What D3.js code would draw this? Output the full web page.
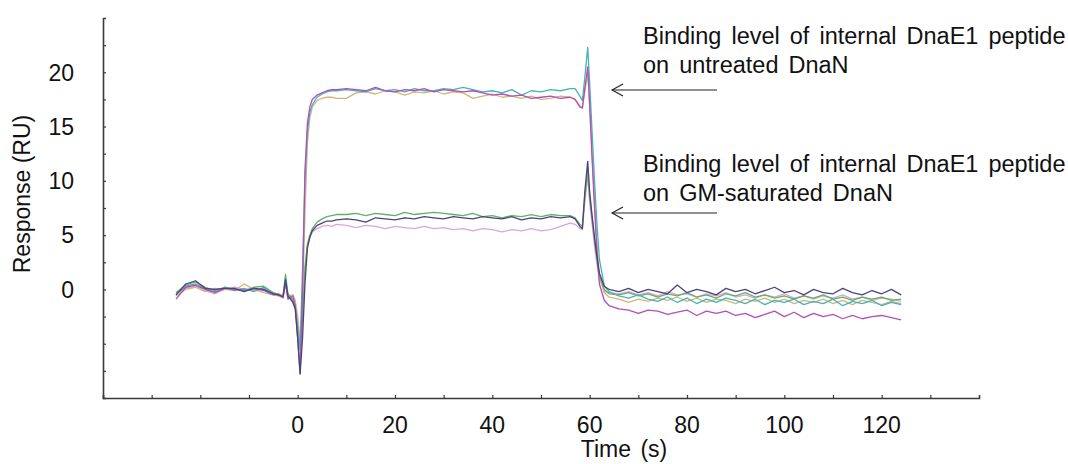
<!DOCTYPE html>
<html>
<head>
<meta charset="utf-8">
<script src="https://cdn.jsdelivr.net/npm/d3@7/dist/d3.min.js"></script>
<style>
  html, body { margin: 0; padding: 0; background: #fff; }
  svg { display: block; }
  text { font-family: "Liberation Sans", Arial, sans-serif; fill: #111; }
</style>
</head>
<body>
<svg id="chart" width="1068" height="464"></svg>
<script>
// ---- Data ----
const time = [-25,-23,-21,-19,-17,-15,-13,-11,-9,-7,-5,-4,-3,-2.5,-2,-1,-0.5,
  0,0.5,1,1.5,2,2.5,3,4,5,6,7,8,
  10,12,14,16,18,20,22,24,26,28,30,32,34,36,38,40,42,44,46,48,50,52,54,56,
  57,58,58.5,59,59.6,60,60.5,61,61.5,62,63,
  64,66,68,70,72,74,76,78,80,82,84,86,88,90,92,94,96,98,100,102,104,106,108,110,112,114,116,118,120,122,124];

const cyanUntreated = [-0.5,0.3,0.5,0.1,-0.2,0.2,-0.1,0.1,-0.2,0.2,-0.4,
  -0.5,-0.6,1.0,-0.6,-1.0,-1.5,
  -3.5,-5.5,2,10,14.5,16.3,17.0,17.7,18.0,18.2,18.3,18.3,
  18.4,18.3,18.2,18.5,18.3,18.4,18.2,18.5,18.3,18.3,18.5,18.4,18.6,18.4,18.2,18.3,18.1,18.4,17.9,18.3,18.2,18.4,18.3,18.5,
  18.5,17.8,17.4,19.5,22.3,19,14.5,10,6,2.8,0.3,
  -0.2,-0.6,-0.8,-0.5,-0.9,-1.1,-0.7,-1.2,-0.8,-1.3,-0.9,-1.2,-0.8,-1.0,-1.3,-0.9,-1.4,-1.0,-1.2,-0.9,-1.4,-1.1,-1.3,-0.9,-1.5,-1.1,-1.3,-1.0,-1.5,-1.2,-1.4];

const magentaUntreated = [-0.9,0.2,0.4,0.0,-0.3,0.1,0.0,-0.1,0.1,-0.1,-0.5,
  -0.4,-0.7,0.6,-0.9,-0.6,-1.5,
  -4.5,-7.7,0,11,15.3,16.8,17.5,17.9,18.1,18.3,18.4,18.4,
  18.5,18.4,18.3,18.6,18.3,18.2,18.4,18.3,18.5,18.2,18.4,18.3,18.2,18.3,18.1,17.9,18.0,17.8,17.9,17.6,17.7,17.8,17.6,17.7,
  17.5,16.8,16.7,18.5,20.5,17,12,7.5,3.5,0.5,-1.0,
  -1.5,-1.8,-1.9,-2.2,-1.9,-2.0,-2.3,-2.1,-1.9,-2.4,-2.0,-2.2,-2.0,-2.4,-2.2,-2.6,-2.3,-2.0,-2.5,-2.1,-2.6,-2.2,-2.5,-2.3,-2.7,-2.4,-2.7,-2.5,-2.4,-2.6,-2.8];

const tanUntreated = [-0.6,0.0,0.2,-0.2,0.1,0.0,-0.1,0.5,0.0,-0.3,-0.5,
  -0.6,-0.8,0.5,-0.7,-0.5,-1.0,
  -2.5,-4.7,-1.0,7,13.5,15.8,16.8,17.4,17.6,17.7,17.7,17.6,
  17.6,18.1,18.2,18.0,18.3,18.2,17.9,18.2,18.1,18.3,18.0,18.2,18.1,17.6,17.8,18.0,17.7,17.8,17.6,17.8,17.5,17.6,17.8,17.7,
  17.5,16.9,16.8,18.2,20.0,17,12.5,8,4,1.2,-0.3,
  -0.7,-0.9,-1.2,-0.9,-1.1,-0.8,-1.0,-0.7,-1.1,-0.8,-1.2,-0.9,-1.0,-1.3,-0.9,-1.1,-0.8,-1.2,-0.9,-1.3,-1.0,-1.2,-0.9,-1.3,-1.0,-1.4,-1.0,-1.2,-1.4,-1.1,-1.3];

const greenSaturated = [-0.3,0.4,0.7,0.2,-0.1,0.2,0.0,-0.1,0.2,0.3,-0.3,
  -0.5,-0.6,1.4,-0.4,-0.9,-1.6,
  -3.5,-5.6,-2.5,2.0,4.2,5.0,5.6,6.2,6.5,6.7,6.8,6.9,
  6.9,7.0,6.8,7.0,6.9,6.8,7.1,6.9,7.0,7.1,7.0,6.9,6.8,7.0,6.7,6.8,6.6,6.8,6.7,6.9,6.7,6.9,6.8,6.8,
  6.6,6.0,5.8,8.5,11.0,8.5,6.5,4.5,2.8,1.3,0.0,
  -0.4,-0.5,-0.3,-0.6,-0.4,-0.7,-0.4,-0.6,-0.3,-0.7,-0.5,-0.8,-0.4,-0.6,-0.3,-0.7,-0.5,-0.8,-0.6,-0.9,-0.6,-0.8,-0.5,-0.9,-0.7,-1.0,-0.7,-0.9,-0.7,-1.0,-0.9];

const darkSaturated = [-0.5,0.5,0.8,0.1,0.0,0.1,0.1,-0.2,0.1,0.0,-0.4,
  -0.5,-0.7,0.9,-0.6,-1.2,-1.8,
  -4.5,-7.8,-4.5,0.5,3.8,4.8,5.4,5.9,6.1,6.3,6.3,6.4,
  6.5,6.4,6.2,6.6,6.5,6.4,6.6,6.5,6.7,6.6,6.5,6.7,6.6,6.5,6.7,6.6,6.5,6.7,6.4,6.6,6.5,6.7,6.6,6.7,
  6.5,5.8,5.6,9.0,11.8,9.0,6.8,4.8,3.0,1.5,0.3,
  0.0,-0.2,0.1,-0.3,0.0,-0.2,-0.4,0.4,-0.3,0.0,-0.2,-0.5,0.1,-0.2,0.0,-0.4,-0.1,0.2,-0.3,-0.1,-0.5,0.0,-0.3,-0.4,0.1,-0.3,-0.5,-0.1,-0.4,0.0,-0.5];

const lavenderSaturated = [-0.3,0.1,0.3,-0.1,-0.4,0.0,0.2,0.0,-0.1,0.1,-0.3,
  -0.4,-0.6,0.7,-0.8,-0.5,-1.3,
  -4.0,-7.0,-3.0,1.8,4.0,4.8,5.3,5.6,5.8,5.9,5.8,6.0,
  5.9,5.7,5.9,5.8,5.6,5.8,5.7,5.6,5.8,5.6,5.7,5.5,5.6,5.4,5.6,5.5,5.3,5.5,5.4,5.6,5.4,5.5,5.8,6.1,
  6.0,5.6,5.5,8.0,10.5,8.0,6.0,4.0,2.3,1.0,-0.2,
  -0.3,-0.4,-0.2,-0.5,-0.3,-0.6,-0.2,-0.5,-0.4,-0.7,-0.4,-0.6,-0.3,-0.7,-0.5,-0.8,-0.5,-0.7,-0.4,-0.8,-0.6,-0.9,-0.6,-0.8,-0.5,-0.9,-0.7,-1.0,-0.8,-0.9,-1.1];

const seriesNames = ["lavenderSaturated","tanUntreated","greenSaturated","cyanUntreated","magentaUntreated","darkSaturated"];
const seriesValues = [lavenderSaturated, tanUntreated, greenSaturated, cyanUntreated, magentaUntreated, darkSaturated];
const seriesColors = ["#d9a6dc","#d4b57c","#62b062","#45b4b8","#b24fb8","#4d4378"];

const xTicks = [-40,-30,-20,-10,0,10,20,30,40,50,60,70,80,90,100,110,120,130];
const xTickLabels = [0,20,40,60,80,100,120];
const yTicks = [-7.5,-5,-2.5,0,2.5,5,7.5,10,12.5,15,17.5,20,22.5];
const yTickLabels = [0,5,10,15,20];

const annotations = [
  ["Binding level of internal DnaE1 peptide", "on untreated DnaN"],
  ["Binding level of internal DnaE1 peptide", "on GM-saturated DnaN"]
];

// ---- Drawing ----
const svg = d3.select("#chart");
const x = d3.scaleLinear().domain([-40, 140]).range([103, 979]);
const y = d3.scaleLinear().domain([-10, 25]).range([398, 18]);
const FS = 23;

// series lines
const line = d3.line()
  .defined(d => d[1] != null && !isNaN(d[1]))
  .x(d => x(d[0])).y(d => y(d[1]));
seriesValues.forEach((vals, i) => {
  const pts = time.map((t, k) => [t, vals[k]]);
  svg.append("path")
    .datum(pts)
    .attr("fill", "none")
    .attr("stroke", seriesColors[i])
    .attr("stroke-width", 1.3)
    .attr("stroke-linejoin", "round")
    .attr("d", line);
});

// axes
const axisColor = "#3a3a3a";
const xAxis = d3.axisBottom(x).tickValues(xTicks).tickSize(-3).tickFormat("");
const gx = svg.append("g").attr("transform", `translate(0,${y(-10)})`).call(xAxis);
const yAxis = d3.axisLeft(y).tickValues(yTicks).tickSize(-3).tickFormat("");
const gy = svg.append("g").attr("transform", `translate(${x(-40)},0)`).call(yAxis);
[gx, gy].forEach(g => {
  g.select(".domain").attr("stroke", axisColor).attr("stroke-width", 1.6);
  g.selectAll(".tick line").attr("stroke", axisColor).attr("stroke-width", 1.2);
});

svg.append("g").selectAll("text").data(xTickLabels).join("text")
  .attr("x", d => x(d)).attr("y", 433)
  .attr("text-anchor", "middle")
  .style("font-size", FS + "px")
  .text(d => d);

svg.append("g").selectAll("text").data(yTickLabels).join("text")
  .attr("x", 74).attr("y", d => y(d))
  .attr("dy", "0.36em")
  .attr("text-anchor", "end")
  .style("font-size", FS + "px")
  .text(d => d);

svg.append("text")
  .attr("x", 624).attr("y", 457)
  .attr("text-anchor", "middle")
  .style("font-size", FS + "px")
  .style("word-spacing", "3px")
  .text("Time (s)");

svg.append("text")
  .attr("transform", "translate(30,194) rotate(-90)")
  .attr("text-anchor", "middle")
  .style("font-size", FS + "px")
  .text("Response (RU)");

// annotations + arrows
const annTop = [44, 172];
const arrowY = [90, 213];
annotations.forEach((lines, i) => {
  const t = svg.append("text")
    .style("font-size", "23.5px")
    .style("word-spacing", "3.5px");
  lines.forEach((s, j) => {
    t.append("tspan").attr("x", 643).attr("y", annTop[i] + j * 28.7).text(s);
  });
  const ay = arrowY[i];
  svg.append("line").attr("x1", 612).attr("x2", 717).attr("y1", ay).attr("y2", ay)
    .attr("stroke", "#222").attr("stroke-width", 1.1);
  svg.append("path")
    .attr("d", `M623,${ay - 6}L612,${ay}L623,${ay + 6}`)
    .attr("fill", "none").attr("stroke", "#222").attr("stroke-width", 1.1);
});
</script>
</body>
</html>
